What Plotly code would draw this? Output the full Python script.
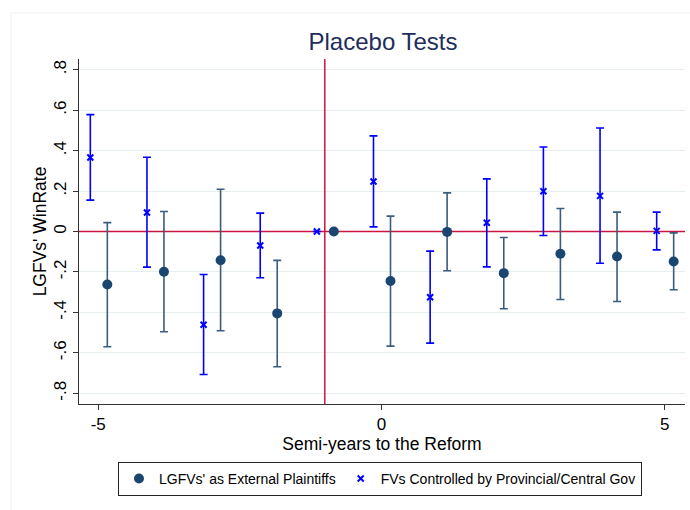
import numpy as np
import plotly.graph_objects as go

periods = [-5, -4, -3, -2, -1, 0, 1, 2, 3, 4, 5]

lgfv_coef = [-0.262, -0.199, -0.142, -0.405, 0.0, -0.245, -0.002, -0.206, -0.110, -0.124, -0.148]
lgfv_hi = [0.044, 0.099, 0.209, -0.143, None, 0.076, 0.191, -0.030, 0.114, 0.096, -0.007]
lgfv_lo = [-0.570, -0.496, -0.491, -0.669, None, -0.567, -0.194, -0.382, -0.336, -0.346, -0.288]

fv_coef = [0.366, 0.094, -0.461, -0.069, 0.0, 0.247, -0.325, 0.043, 0.199, 0.176, 0.003]
fv_hi = [0.578, 0.367, -0.213, 0.091, None, 0.473, -0.097, 0.260, 0.418, 0.512, 0.096]
fv_lo = [0.155, -0.176, -0.707, -0.229, None, 0.023, -0.552, -0.175, -0.020, -0.157, -0.091]

y_tickvals = [-0.8, -0.6, -0.4, -0.2, 0, 0.2, 0.4, 0.6, 0.8]
y_ticktext = ["-.8", "-.6", "-.4", "-.2", "0", ".2", ".4", ".6", ".8"]
x_tickvals = [-5, 0, 5]
x_ticktext = ["-5", "0", "5"]

series_names = ["LGFVs' as External Plaintiffs", "FVs Controlled by Provincial/Central Gov"]

X_RANGE = [-5.34, 5.36]
Y_RANGE = [-0.853, 0.853]
REF_X = -1
REF_Y = 0


def err(coef, hi, lo):
    up = [np.nan if h is None else h - c for c, h in zip(coef, hi)]
    dn = [np.nan if l is None else c - l for c, l in zip(coef, lo)]
    return up, dn


NAVY = "#1a476f"
NAVY_BAR = "#3a5d7e"
BLUE = "#0000ff"
RED = "#cc1440"
FONT = "Liberation Sans, Arial, sans-serif"

fig = go.Figure()

# reference lines (drawn first, beneath markers)
fig.add_trace(go.Scatter(x=X_RANGE, y=[REF_Y, REF_Y], mode="lines", line=dict(color=RED, width=1.5),
                         showlegend=False, hoverinfo="skip", cliponaxis=True))
fig.add_trace(go.Scatter(x=[REF_X, REF_X], y=Y_RANGE, mode="lines", line=dict(color=RED, width=1.5),
                         showlegend=False, hoverinfo="skip", cliponaxis=True))

fv_up, fv_dn = err(fv_coef, fv_hi, fv_lo)
fig.add_trace(go.Scatter(
    x=[p - 0.14 for p in periods], y=fv_coef, mode="markers",
    name=series_names[1],
    marker=dict(symbol="x-thin-open", size=6, color=BLUE, line=dict(color=BLUE, width=2)),
    error_y=dict(type="data", array=fv_up, arrayminus=fv_dn, color=BLUE, thickness=1.6, width=4),
    legendrank=2,
))

lg_up, lg_dn = err(lgfv_coef, lgfv_hi, lgfv_lo)
fig.add_trace(go.Scatter(
    x=[p + 0.16 for p in periods], y=lgfv_coef, mode="markers",
    name=series_names[0],
    marker=dict(symbol="circle", size=10, color=NAVY),
    error_y=dict(type="data", array=lg_up, arrayminus=lg_dn, color=NAVY_BAR, thickness=1.6, width=4),
    legendrank=1,
))

# faint graph-region border
fig.add_shape(type="line", xref="paper", yref="paper", x0=-68 / 606, x1=1.2, y0=1 + 46 / 345, y1=1 + 46 / 345,
              line=dict(color="#f0f0f0", width=1))
fig.add_shape(type="line", xref="paper", yref="paper", x0=-68 / 606, x1=-68 / 606, y0=-0.5, y1=1 + 46 / 345,
              line=dict(color="#f0f0f0", width=1))

fig.update_layout(
    width=690, height=510,
    margin=dict(l=79, r=5, t=59, b=106),
    paper_bgcolor="white", plot_bgcolor="white",
    font=dict(family=FONT, color="black"),
    title=dict(text="Placebo Tests", x=383 / 690, xanchor="center", y=1 - 42 / 510, yanchor="middle",
               font=dict(size=24, color="#1e2d5c", family=FONT)),
    showlegend=True,
    legend=dict(orientation="h", x=(380 - 79) / 606, xanchor="center", y=-0.168, yanchor="top",
                bordercolor="#222222", borderwidth=1, bgcolor="white",
                font=dict(size=14, family=FONT), traceorder="normal"),
    xaxis=dict(range=X_RANGE, tickvals=x_tickvals, ticktext=x_ticktext,
               showgrid=False, zeroline=False, showline=True, linecolor="#333333", linewidth=1,
               ticks="outside", ticklen=5, tickcolor="#333333", tickfont=dict(size=17),
               title=dict(text="Semi-years to the Reform", font=dict(size=17.5), standoff=1),
               automargin=False),
    yaxis=dict(range=Y_RANGE, tickvals=y_tickvals, ticktext=y_ticktext, tickangle=-90,
               showgrid=True, gridcolor="#e7eef0", gridwidth=1, zeroline=False,
               showline=True, linecolor="#333333", linewidth=1,
               ticks="outside", ticklen=5, tickcolor="#333333", tickfont=dict(size=17),
               title=dict(text="LGFVs' WinRate", font=dict(size=17.5), standoff=0),
               automargin=False),
)

fig.write_html("out.html")
